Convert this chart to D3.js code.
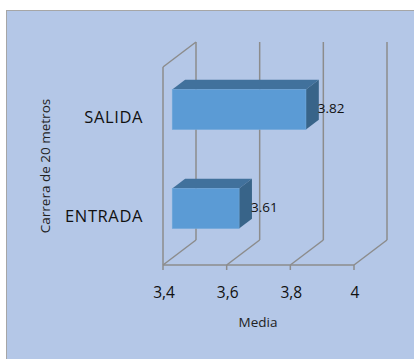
<!DOCTYPE html>
<html>
<head>
<meta charset="utf-8">
<script src="https://cdn.jsdelivr.net/npm/d3@7"></script>
<style>
  body { margin: 0; background: #fff; }
  svg { display: block; font-family: "Open Sans", "Liberation Sans", sans-serif; }
</style>
</head>
<body>
<svg id="chart" width="414" height="359"></svg>
<script>
var categories = ["ENTRADA", "SALIDA"];
var values = [3.61, 3.82];
var valueLabels = ["3.61", "3.82"];
var tickValues = [3.4, 3.6, 3.8, 4];
var tickLabels = ["3,4", "3,6", "3,8", "4"];

var svg = d3.select("#chart");

// chart background
svg.append("rect")
    .attr("x", 6.5).attr("y", 10.5)
    .attr("width", 420).attr("height", 360)
    .attr("fill", "#b4c7e7")
    .attr("stroke", "#a6a6a6");

// front plane scales, depth offset
var xScale = d3.scaleLinear().domain([3.4, 4]).range([163, 354]);
var yScale = d3.scaleBand().domain(categories.slice().reverse()).range([67, 265]);
var depth = { dx: 33, dy: -25 };
var barFront = 0.28, barBack = 0.67, barH = 40;

var grid = svg.append("g")
    .attr("stroke", "#8c8c8c")
    .attr("stroke-width", 1.5)
    .attr("fill", "none");

var y0 = yScale.range()[1], y1 = yScale.range()[0];

// back vertical gridlines and floor diagonals
tickValues.forEach(function(t) {
    var x = xScale(t);
    grid.append("line")
        .attr("x1", x + depth.dx).attr("y1", y1 + depth.dy)
        .attr("x2", x + depth.dx).attr("y2", y0 + depth.dy);
    grid.append("line")
        .attr("x1", x).attr("y1", y0)
        .attr("x2", x + depth.dx).attr("y2", y0 + depth.dy);
    grid.append("line")
        .attr("x1", x).attr("y1", y0)
        .attr("x2", x).attr("y2", y0 + 5);
});

// left wall
var xl = xScale.range()[0];
grid.append("line").attr("x1", xl).attr("y1", y1).attr("x2", xl).attr("y2", y0);
grid.append("line").attr("x1", xl).attr("y1", y1)
    .attr("x2", xl + depth.dx).attr("y2", y1 + depth.dy);
// floor front edge
grid.append("line").attr("x1", xl).attr("y1", y0)
    .attr("x2", xScale.range()[1]).attr("y2", y0);

// bars
var bars = svg.append("g");
categories.forEach(function(c, i) {
    var fx = depth.dx * barFront, fy = depth.dy * barFront;
    var bx = depth.dx * barBack, by = depth.dy * barBack;
    var cy = yScale(c) + yScale.bandwidth() / 2 + fy;
    var left = xScale(3.4) + fx;
    var right = xScale(values[i]) + fx;
    var top = cy - barH / 2, bottom = cy + barH / 2;
    var ddx = bx - fx, ddy = by - fy;

    // top face
    bars.append("path")
        .attr("d", "M" + left + "," + top + "L" + (left + ddx) + "," + (top + ddy) +
            "L" + (right + ddx) + "," + (top + ddy) + "L" + right + "," + top + "Z")
        .attr("fill", "#41719c");
    // side face
    bars.append("path")
        .attr("d", "M" + right + "," + top + "L" + (right + ddx) + "," + (top + ddy) +
            "L" + (right + ddx) + "," + (bottom + ddy) + "L" + right + "," + bottom + "Z")
        .attr("fill", "#386489");
    // front face
    bars.append("rect")
        .attr("x", left).attr("y", top)
        .attr("width", right - left).attr("height", barH)
        .attr("fill", "#5b9bd5")
        .attr("stroke", "#6ea6d9").attr("stroke-width", 0.6);

    svg.append("text")
        .attr("x", right + ddx - 1).attr("y", cy - 1)
        .attr("dy", "0.35em")
        .attr("font-size", 13.5)
        .attr("fill", "#111")
        .text(valueLabels[i]);
});

// category labels
svg.append("g").selectAll("text")
    .data(categories)
    .enter()
    .append("text")
    .attr("x", 143)
    .attr("y", function(d) { return yScale(d) + yScale.bandwidth() / 2 + 1; })
    .attr("dy", "0.35em")
    .attr("text-anchor", "end")
    .attr("font-size", 16.5)
    .attr("letter-spacing", 0.6)
    .attr("fill", "#111")
    .text(function(d) { return d; });

// tick labels
svg.append("g").selectAll("text")
    .data(tickValues)
    .enter()
    .append("text")
    .attr("x", function(d) { return xScale(d) + 1; })
    .attr("y", 293)
    .attr("dy", "0.35em")
    .attr("text-anchor", "middle")
    .attr("font-size", 15.5)
    .attr("fill", "#111")
    .text(function(d, i) { return tickLabels[i]; });

// axis titles
svg.append("text")
    .attr("x", 258).attr("y", 322)
    .attr("dy", "0.35em")
    .attr("text-anchor", "middle")
    .attr("font-size", 13.5)
    .attr("fill", "#222")
    .text("Media");

svg.append("text")
    .attr("transform", "translate(45,166) rotate(-90)")
    .attr("dy", "0.35em")
    .attr("text-anchor", "middle")
    .attr("font-size", 13.5)
    .attr("fill", "#222")
    .text("Carrera de 20 metros");
</script>
</body>
</html>
